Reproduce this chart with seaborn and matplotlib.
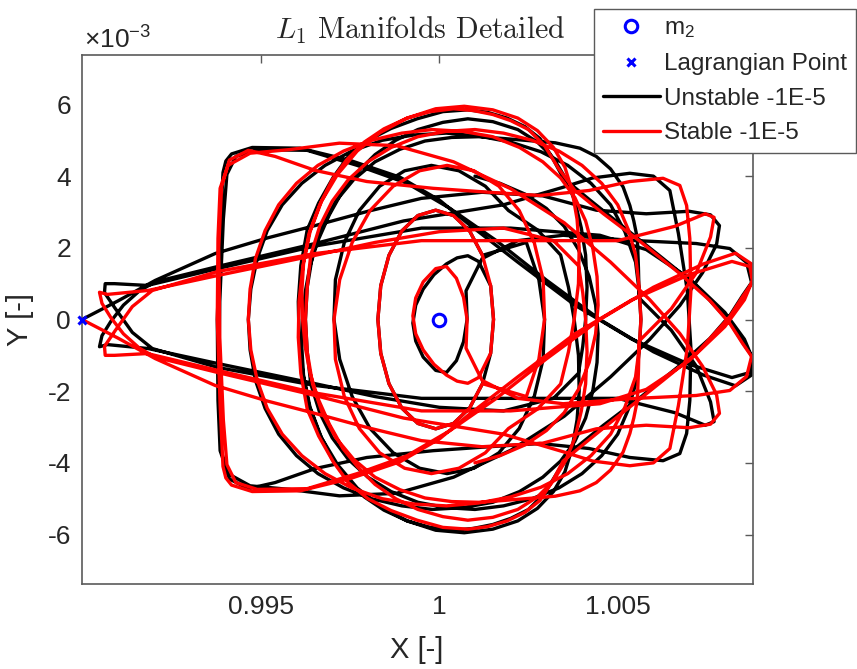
import numpy as np
import pandas as pd
import matplotlib
matplotlib.use("Agg")
import matplotlib.pyplot as plt
from matplotlib.lines import Line2D
import seaborn as sns

# ---- trajectory data: X [-] and Y [x1e-3 -] ----
unstable_x = [
    # departure from L1 and first sweep
    0.98999, 0.99100, 0.99204, 0.99372, 0.99520, 0.99652, 0.99800, 0.99950, 1.00120, 1.00290,
    1.00440, 1.00580, 1.00700, 1.00760, 1.00785, 1.00777, 1.00738, 1.00674, 1.00590, 1.00480,
    1.00350, 1.00200, 1.00040, 0.99880, 0.99720, 0.99580, 0.99470, 0.99408, 0.99386, 0.99380,
    0.99378, 0.99386, 0.99394, 0.99402, 0.99418, 0.99476, 0.99610, 0.99750, 0.99890, 1.00002,
    1.00080, 1.00220, 1.00380, 1.00540, 1.00700, 1.00820, 1.00870, 1.00878, 1.00850, 1.00814,
    1.00720, 1.00627, 1.00520, 1.00420,
    # wide loop around m2
    1.00347, 1.00315, 1.00282, 1.00240, 1.00190, 1.00135, 1.00080, 1.00010, 0.99938, 0.99865,
    0.99800, 0.99745, 0.99703, 0.99662, 0.99630, 0.99612, 0.99605, 0.99607, 0.99618, 0.99638,
    0.99670, 0.99715, 0.99770, 0.99835, 0.99910, 0.99990, 1.00070, 1.00150, 1.00220, 1.00275,
    1.00320, 1.00352, 1.00372, 1.00386, 1.00392, 1.00390, 1.00378, 1.00362, 1.00340,
    # tighter loops
    1.00275, 1.00194, 1.00129, 1.00055, 0.99978, 0.99903, 0.99833, 0.99776, 0.99734, 0.99709,
    0.99705, 0.99721, 0.99756, 0.99806, 0.99871, 0.99945, 1.00022, 1.00097, 1.00167, 1.00224,
    1.00266, 1.00291, 1.00295, 1.00279, 1.00244,
    1.00121, 1.00085, 1.00040, 0.99990, 0.99940, 0.99895, 0.99859, 0.99836, 0.99828, 0.99836,
    0.99859, 0.99895, 0.99940, 0.99990, 1.00040, 1.00085, 1.00121, 1.00144, 1.00152, 1.00144,
    1.00110, 1.00080,
    1.00050, 1.00020, 0.99985, 0.99955, 0.99934, 0.99926, 0.99934, 0.99955, 0.99990, 1.00020,
    1.00048, 1.00068, 1.00078,
    # outward sweep to the right lobe
    1.00075, 1.00120, 1.00220, 1.00347, 1.00534, 1.00720, 1.00814, 1.00861, 1.00875, 1.00850,
    1.00814, 1.00758, 1.00674, 1.00560, 1.00460, 1.00380, 1.00335, 1.00295, 1.00250, 1.00200,
    1.00150, 1.00095, 1.00040, 0.99975, 0.99910, 0.99845, 0.99790, 0.99740, 0.99700, 0.99665,
    0.99635, 0.99620, 0.99615, 0.99617, 0.99625, 0.99638, 0.99660, 0.99692, 0.99730, 0.99772,
    0.99820, 0.99878, 0.99940, 1.00010, 1.00080, 1.00150, 1.00220, 1.00275, 1.00320, 1.00355,
    1.00380, 1.00398, 1.00410, 1.00414, 1.00410, 1.00402, 1.00390,
    # two passes through the L1 neck
    1.00320, 1.00180, 1.00000, 0.99820, 0.99652, 0.99380, 0.99184, 0.99070, 0.99048, 0.99055,
    0.99080, 0.99115, 0.99160, 0.99204, 0.99392, 0.99652, 0.99900, 1.00180, 1.00347, 1.00430,
    1.00534, 1.00600, 1.00646, 1.00670, 1.00695, 1.00705, 1.00702, 1.00693, 1.00674, 1.00627,
    1.00534, 1.00420, 1.00282, 1.00140, 0.99983, 0.99797, 0.99652, 0.99540, 0.99465, 0.99412,
    0.99390, 0.99382, 0.99385, 0.99395, 0.99405, 0.99430, 0.99490, 0.99630, 0.99770, 0.99910,
    1.00030, 1.00160, 1.00300, 1.00450, 1.00600, 1.00740, 1.00830, 1.00875, 1.00878, 1.00855,
    1.00800, 1.00700, 1.00580, 1.00450, 1.00200, 0.99950, 0.99652, 0.99392, 0.99182, 0.99090,
    0.99064, 0.99062, 0.99092, 0.99140, 0.99196, 0.99380, 0.99652, 0.99950, 1.00250, 1.00500,
    1.00660, 1.00745, 1.00770, 1.00760, 1.00720, 1.00650, 1.00560,
    # closing loops around m2
    1.00558, 1.00555, 1.00545, 1.00534, 1.00515, 1.00480, 1.00440, 1.00394, 1.00325, 1.00254,
    1.00180, 1.00110, 1.00035, 0.99960, 0.99890, 0.99820, 0.99760, 0.99710, 0.99672, 0.99645,
    0.99630, 0.99625, 0.99630, 0.99640, 0.99665, 0.99700, 0.99745, 0.99800, 0.99865, 0.99940,
    1.00020, 1.00100, 1.00180, 1.00260, 1.00335, 1.00400, 1.00455, 1.00500, 1.00530, 1.00550,
    1.00560, 1.00565, 1.00560, 1.00550,
    1.00520, 1.00480, 1.00425, 1.00360, 1.00285, 1.00200, 1.00110, 1.00020, 0.99930, 0.99840,
    0.99755, 0.99680, 0.99615, 0.99560, 0.99518, 0.99490, 0.99472, 0.99465, 0.99470, 0.99485,
    0.99512, 0.99550, 0.99600, 0.99660, 0.99732, 0.99810, 0.99895, 0.99980, 1.00065, 1.00150,
    1.00225, 1.00290, 1.00340, 1.00380, 1.00410, 1.00430, 1.00442, 1.00445, 1.00438, 1.00420,
    1.00390, 1.00350, 1.00300, 1.00240, 1.00170, 1.00100,
]
unstable_y = [
    0.00, 0.52, 1.09, 1.84, 2.28, 2.62, 3.02, 3.38, 3.55, 3.45,
    3.05, 2.95, 3.02, 2.92, 2.62, 2.10, 1.31, 0.39, -0.55, -1.60,
    -2.70, -3.65, -4.40, -4.85, -4.92, -4.74, -4.64, -4.30, -3.66, -2.26,
    0.00, 2.40, 4.10, 4.42, 4.62, 4.80, 4.78, 4.44, 3.97, 3.32,
    2.68, 1.60, 0.40, -0.55, -1.25, -1.62, -1.48, -1.05, -0.64, -0.08,
    0.95, 1.70, 2.55, 3.35,
    3.95, 4.55, 5.05, 5.38, 5.62, 5.78, 5.85, 5.80, 5.60, 5.33,
    5.00, 4.55, 3.97, 3.25, 2.50, 1.50, 0.50, -0.50, -1.50, -2.45,
    -3.30, -4.05, -4.70, -5.22, -5.62, -5.88, -5.95, -5.85, -5.62, -5.27,
    -4.80, -4.25, -3.60, -2.80, -2.00, -1.00, 0.00, 0.90, 1.80,
    2.50, 3.04, 3.72, 4.15, 4.30, 4.15, 3.72, 3.04, 2.15, 1.11,
    0.00, -1.11, -2.15, -3.04, -3.72, -4.15, -4.30, -4.15, -3.72, -3.04,
    -2.15, -1.11, 0.00, 1.11, 2.15,
    1.79, 2.47, 2.90, 3.05, 2.90, 2.47, 1.79, 0.94, 0.00, -0.94,
    -1.79, -2.47, -2.90, -3.05, -2.90, -2.47, -1.79, -0.94, 0.00, 0.94,
    1.62, 1.78,
    1.72, 1.55, 1.25, 0.85, 0.40, -0.10, -0.60, -1.05, -1.42, -1.48,
    -1.15, -0.62, 0.00,
    0.80, 1.70, 2.20, 2.35, 2.21, 2.12, 1.98, 1.59, 1.03, 0.67,
    0.11, -0.53, -1.28, -2.20, -2.95, -3.60, -4.20, -4.85, -5.30, -5.55,
    -5.72, -5.83, -5.88, -5.80, -5.62, -5.32, -4.95, -4.45, -3.90, -3.20,
    -2.40, -1.60, -0.80, 0.00, 0.80, 1.50, 2.20, 2.92, 3.60, 4.12,
    4.60, 5.00, 5.30, 5.50, 5.60, 5.52, 5.30, 4.95, 4.50, 3.92,
    3.30, 2.55, 1.80, 0.90, 0.00, -0.75, -1.50,
    -2.20, -2.55, -2.45, -2.15, -1.79, -1.23, -0.81, -0.70, -0.76, -0.45,
    -0.05, 0.40, 0.80, 1.05, 1.51, 2.12, 2.75, 3.20, 3.69, 3.95,
    4.08, 4.00, 3.60, 2.40, 0.80, -0.80, -2.26, -3.18, -3.74, -3.94,
    -3.85, -3.60, -3.46, -3.55, -3.66, -3.85, -4.16, -4.55, -4.72, -4.45,
    -3.70, -2.00, 0.50, 2.80, 4.05, 4.55, 4.74, 4.72, 4.30, 3.80,
    3.10, 2.20, 1.10, 0.00, -0.90, -1.55, -1.85, -1.55, -1.10, -0.55,
    0.20, 1.15, 1.95, 2.35, 2.55, 2.55, 2.05, 1.45, 0.95, 1.00,
    1.00, 0.75, 0.31, -0.36, -0.81, -1.34, -1.84, -2.20, -2.20, -2.20,
    -2.60, -2.95, -2.85, -2.30, -1.30, -0.30, 0.60,
    1.45, 2.26, 2.75, 3.18, 3.70, 4.20, 4.55, 4.78, 4.93, 4.99,
    5.05, 5.10, 5.08, 4.98, 4.75, 4.40, 3.90, 3.30, 2.60, 1.80,
    0.90, 0.00, -0.90, -1.80, -2.60, -3.30, -3.90, -4.40, -4.80, -5.10,
    -5.25, -5.30, -5.20, -5.00, -4.70, -4.30, -3.80, -3.20, -2.50, -1.80,
    -0.90, 0.00, 0.80, 1.60,
    2.45, 3.20, 3.80, 4.30, 4.68, 4.95, 5.12, 5.20, 5.15, 5.00,
    4.70, 4.30, 3.80, 3.20, 2.48, 1.70, 0.85, 0.00, -0.85, -1.70,
    -2.48, -3.20, -3.80, -4.30, -4.70, -5.00, -5.20, -5.30, -5.25, -5.10,
    -4.80, -4.40, -3.95, -3.40, -2.75, -2.00, -1.20, -0.40, 0.40, 1.20,
    1.95, 2.60, 3.10, 3.50, 3.80, 4.00,
]

stable_x = [
    0.98999, 0.99100, 0.99204, 0.99372, 0.99520, 0.99652, 0.99800, 0.99950, 1.00120, 1.00290,
    1.00440, 1.00580, 1.00700, 1.00760, 1.00785, 1.00777, 1.00738, 1.00674, 1.00590, 1.00480,
    1.00350, 1.00200, 1.00040, 0.99880, 0.99720, 0.99580, 0.99470, 0.99408, 0.99386, 0.99380,
    0.99378, 0.99386, 0.99394, 0.99402, 0.99418, 0.99476, 0.99610, 0.99750, 0.99890, 1.00002,
    1.00080, 1.00220, 1.00380, 1.00540, 1.00700, 1.00820, 1.00870, 1.00878, 1.00850, 1.00814,
    1.00720, 1.00627, 1.00520, 1.00420,
    1.00347, 1.00315, 1.00282, 1.00240, 1.00190, 1.00135, 1.00080, 1.00010, 0.99938, 0.99865,
    0.99800, 0.99745, 0.99703, 0.99662, 0.99630, 0.99612, 0.99605, 0.99607, 0.99618, 0.99638,
    0.99670, 0.99715, 0.99770, 0.99835, 0.99910, 0.99990, 1.00070, 1.00150, 1.00220, 1.00275,
    1.00320, 1.00352, 1.00372, 1.00386, 1.00392, 1.00390, 1.00378, 1.00362, 1.00340,
    1.00275, 1.00194, 1.00129, 1.00055, 0.99978, 0.99903, 0.99833, 0.99776, 0.99734, 0.99709,
    0.99705, 0.99721, 0.99756, 0.99806, 0.99871, 0.99945, 1.00022, 1.00097, 1.00167, 1.00224,
    1.00266, 1.00291, 1.00295, 1.00279, 1.00244,
    1.00121, 1.00085, 1.00040, 0.99990, 0.99940, 0.99895, 0.99859, 0.99836, 0.99828, 0.99836,
    0.99859, 0.99895, 0.99940, 0.99990, 1.00040, 1.00085, 1.00121, 1.00144, 1.00152, 1.00144,
    1.00110, 1.00080,
    1.00050, 1.00020, 0.99985, 0.99955, 0.99934, 0.99926, 0.99934, 0.99955, 0.99990, 1.00020,
    1.00048, 1.00068, 1.00078,
    1.00075, 1.00120, 1.00220, 1.00347, 1.00534, 1.00720, 1.00814, 1.00861, 1.00875, 1.00850,
    1.00814, 1.00758, 1.00674, 1.00560, 1.00460, 1.00380, 1.00335, 1.00295, 1.00250, 1.00200,
    1.00150, 1.00095, 1.00040, 0.99975, 0.99910, 0.99845, 0.99790, 0.99740, 0.99700, 0.99665,
    0.99635, 0.99620, 0.99615, 0.99617, 0.99625, 0.99638, 0.99660, 0.99692, 0.99730, 0.99772,
    0.99820, 0.99878, 0.99940, 1.00010, 1.00080, 1.00150, 1.00220, 1.00275, 1.00320, 1.00355,
    1.00380, 1.00398, 1.00410, 1.00414, 1.00410, 1.00402, 1.00390,
    1.00320, 1.00180, 1.00000, 0.99820, 0.99652, 0.99380, 0.99184, 0.99070, 0.99048, 0.99055,
    0.99080, 0.99115, 0.99160, 0.99204, 0.99392, 0.99652, 0.99900, 1.00180, 1.00347, 1.00430,
    1.00534, 1.00600, 1.00646, 1.00670, 1.00695, 1.00705, 1.00702, 1.00693, 1.00674, 1.00627,
    1.00534, 1.00420, 1.00282, 1.00140, 0.99983, 0.99797, 0.99652, 0.99540, 0.99465, 0.99412,
    0.99390, 0.99382, 0.99385, 0.99395, 0.99405, 0.99430, 0.99490, 0.99630, 0.99770, 0.99910,
    1.00030, 1.00160, 1.00300, 1.00450, 1.00600, 1.00740, 1.00830, 1.00875, 1.00878, 1.00855,
    1.00800, 1.00700, 1.00580, 1.00450, 1.00200, 0.99950, 0.99652, 0.99392, 0.99182, 0.99090,
    0.99064, 0.99062, 0.99092, 0.99140, 0.99196, 0.99380, 0.99652, 0.99950, 1.00250, 1.00500,
    1.00660, 1.00745, 1.00770, 1.00760, 1.00720, 1.00650, 1.00560,
    1.00558, 1.00555, 1.00545, 1.00534, 1.00515, 1.00480, 1.00440, 1.00394, 1.00325, 1.00254,
    1.00180, 1.00110, 1.00035, 0.99960, 0.99890, 0.99820, 0.99760, 0.99710, 0.99672, 0.99645,
    0.99630, 0.99625, 0.99630, 0.99640, 0.99665, 0.99700, 0.99745, 0.99800, 0.99865, 0.99940,
    1.00020, 1.00100, 1.00180, 1.00260, 1.00335, 1.00400, 1.00455, 1.00500, 1.00530, 1.00550,
    1.00560, 1.00565, 1.00560, 1.00550,
    1.00520, 1.00480, 1.00425, 1.00360, 1.00285, 1.00200, 1.00110, 1.00020, 0.99930, 0.99840,
    0.99755, 0.99680, 0.99615, 0.99560, 0.99518, 0.99490, 0.99472, 0.99465, 0.99470, 0.99485,
    0.99512, 0.99550, 0.99600, 0.99660, 0.99732, 0.99810, 0.99895, 0.99980, 1.00065, 1.00150,
    1.00225, 1.00290, 1.00340, 1.00380, 1.00410, 1.00430, 1.00442, 1.00445, 1.00438, 1.00420,
    1.00390, 1.00350, 1.00300, 1.00240, 1.00170, 1.00100,
]
stable_y = [
    0.00, -0.52, -1.09, -1.84, -2.28, -2.62, -3.02, -3.38, -3.55, -3.45,
    -3.05, -2.95, -3.02, -2.92, -2.62, -2.10, -1.31, -0.39, 0.55, 1.60,
    2.70, 3.65, 4.40, 4.85, 4.92, 4.74, 4.64, 4.30, 3.66, 2.26,
    0.00, -2.40, -4.10, -4.42, -4.62, -4.80, -4.78, -4.44, -3.97, -3.32,
    -2.68, -1.60, -0.40, 0.55, 1.25, 1.62, 1.48, 1.05, 0.64, 0.08,
    -0.95, -1.70, -2.55, -3.35,
    -3.95, -4.55, -5.05, -5.38, -5.62, -5.78, -5.85, -5.80, -5.60, -5.33,
    -5.00, -4.55, -3.97, -3.25, -2.50, -1.50, -0.50, 0.50, 1.50, 2.45,
    3.30, 4.05, 4.70, 5.22, 5.62, 5.88, 5.95, 5.85, 5.62, 5.27,
    4.80, 4.25, 3.60, 2.80, 2.00, 1.00, 0.00, -0.90, -1.80,
    -2.50, -3.04, -3.72, -4.15, -4.30, -4.15, -3.72, -3.04, -2.15, -1.11,
    0.00, 1.11, 2.15, 3.04, 3.72, 4.15, 4.30, 4.15, 3.72, 3.04,
    2.15, 1.11, 0.00, -1.11, -2.15,
    -1.79, -2.47, -2.90, -3.05, -2.90, -2.47, -1.79, -0.94, 0.00, 0.94,
    1.79, 2.47, 2.90, 3.05, 2.90, 2.47, 1.79, 0.94, 0.00, -0.94,
    -1.62, -1.78,
    -1.72, -1.55, -1.25, -0.85, -0.40, 0.10, 0.60, 1.05, 1.42, 1.48,
    1.15, 0.62, 0.00,
    -0.80, -1.70, -2.20, -2.35, -2.21, -2.12, -1.98, -1.59, -1.03, -0.67,
    -0.11, 0.53, 1.28, 2.20, 2.95, 3.60, 4.20, 4.85, 5.30, 5.55,
    5.72, 5.83, 5.88, 5.80, 5.62, 5.32, 4.95, 4.45, 3.90, 3.20,
    2.40, 1.60, 0.80, 0.00, -0.80, -1.50, -2.20, -2.92, -3.60, -4.12,
    -4.60, -5.00, -5.30, -5.50, -5.60, -5.52, -5.30, -4.95, -4.50, -3.92,
    -3.30, -2.55, -1.80, -0.90, 0.00, 0.75, 1.50,
    2.20, 2.55, 2.45, 2.15, 1.79, 1.23, 0.81, 0.70, 0.76, 0.45,
    0.05, -0.40, -0.80, -1.05, -1.51, -2.12, -2.75, -3.20, -3.69, -3.95,
    -4.08, -4.00, -3.60, -2.40, -0.80, 0.80, 2.26, 3.18, 3.74, 3.94,
    3.85, 3.60, 3.46, 3.55, 3.66, 3.85, 4.16, 4.55, 4.72, 4.45,
    3.70, 2.00, -0.50, -2.80, -4.05, -4.55, -4.74, -4.72, -4.30, -3.80,
    -3.10, -2.20, -1.10, 0.00, 0.90, 1.55, 1.85, 1.55, 1.10, 0.55,
    -0.20, -1.15, -1.95, -2.35, -2.55, -2.55, -2.05, -1.45, -0.95, -1.00,
    -1.00, -0.75, -0.31, 0.36, 0.81, 1.34, 1.84, 2.20, 2.20, 2.20,
    2.60, 2.95, 2.85, 2.30, 1.30, 0.30, -0.60,
    -1.45, -2.26, -2.75, -3.18, -3.70, -4.20, -4.55, -4.78, -4.93, -4.99,
    -5.05, -5.10, -5.08, -4.98, -4.75, -4.40, -3.90, -3.30, -2.60, -1.80,
    -0.90, 0.00, 0.90, 1.80, 2.60, 3.30, 3.90, 4.40, 4.80, 5.10,
    5.25, 5.30, 5.20, 5.00, 4.70, 4.30, 3.80, 3.20, 2.50, 1.80,
    0.90, 0.00, -0.80, -1.60,
    -2.45, -3.20, -3.80, -4.30, -4.68, -4.95, -5.12, -5.20, -5.15, -5.00,
    -4.70, -4.30, -3.80, -3.20, -2.48, -1.70, -0.85, 0.00, 0.85, 1.70,
    2.48, 3.20, 3.80, 4.30, 4.70, 5.00, 5.20, 5.30, 5.25, 5.10,
    4.80, 4.40, 3.95, 3.40, 2.75, 2.00, 1.20, 0.40, -0.40, -1.20,
    -1.95, -2.60, -3.10, -3.50, -3.80, -4.00,
]

m2_pos = (0.999997, 0.0)
lagrange_pos = (0.98999, 0.0)

x_ticks = [0.995, 1.0, 1.005]
x_tick_labels = ["0.995", "1", "1.005"]
y_ticks = [-6, -4, -2, 0, 2, 4, 6]
y_tick_labels = ["-6", "-4", "-2", "0", "2", "4", "6"]

series_labels = ["m$_2$", "Lagrangian Point", "Unstable -1E-5", "Stable -1E-5"]

# ---- style ----
sns.set_style("white")
plt.rcParams["font.family"] = ["Liberation Sans", "DejaVu Sans"]
plt.rcParams["mathtext.fontset"] = "custom"
plt.rcParams["mathtext.rm"] = "Liberation Sans"
plt.rcParams["mathtext.it"] = "Liberation Sans:italic"
plt.rcParams["mathtext.bf"] = "Liberation Sans:bold"

axis_grey = "#262626"
spine_grey = "#5a5a5a"

fig = plt.figure(figsize=(8.57, 6.69), dpi=100)
ax = fig.add_axes([82 / 857, 1 - 584 / 669, (753 - 82) / 857, (584 - 55) / 669])

unstable = pd.DataFrame({"X": unstable_x, "Y": np.array(unstable_y) * 1e-3})
stable = pd.DataFrame({"X": stable_x, "Y": np.array(stable_y) * 1e-3})

sns.lineplot(data=unstable, x="X", y="Y", sort=False, estimator=None,
             color="black", linewidth=2.4, ax=ax)
sns.lineplot(data=stable, x="X", y="Y", sort=False, estimator=None,
             color="red", linewidth=2.4, ax=ax)
for ln in ax.get_lines():
    ln.set_solid_joinstyle("round")

ax.plot([m2_pos[0]], [m2_pos[1]], "o", mfc="none", mec="blue", mew=2.2, ms=9, zorder=5)
ax.plot([lagrange_pos[0]], [lagrange_pos[1]], "x", color="blue", mew=2.2, ms=6,
        zorder=5, clip_on=False)

ax.set_xlim(0.98999, 1.00879)
ax.set_ylim(-7.38e-3, 7.38e-3)
ax.set_xticks(x_ticks)
ax.set_xticklabels(x_tick_labels)
ax.set_yticks([t * 1e-3 for t in y_ticks])
ax.set_yticklabels(y_tick_labels)
ax.tick_params(direction="in", length=6, width=1, top=True, right=True,
               labelsize=19, colors=spine_grey, labelcolor=axis_grey, pad=8)
for s in ax.spines.values():
    s.set_color(spine_grey)
    s.set_linewidth(1.2)
ax.set_xlabel("")
ax.set_ylabel("")

fig.text(417 / 857, 1 - 650 / 669, "X [-]", ha="center", va="center",
         fontsize=21, color=axis_grey)
fig.text(20 / 857, 1 - 320 / 669, "Y [-]", ha="center", va="center",
         fontsize=21, color=axis_grey, rotation=90)
fig.text(84 / 857, 1 - 40 / 669, r"$\times10^{-3}$", ha="left", va="center",
         fontsize=19, color=axis_grey)
fig.text(420 / 857, 1 - 30 / 669, r"$L_1$ Manifolds Detailed", ha="center",
         va="center", fontsize=21.5, color=axis_grey, family="cmr10",
         math_fontfamily="cm")

handles = [
    Line2D([], [], marker="o", ls="none", mfc="none", mec="blue", mew=2.2, ms=9),
    Line2D([], [], marker="x", ls="none", color="blue", mew=2.2, ms=6),
    Line2D([], [], color="black", lw=2.4),
    Line2D([], [], color="red", lw=2.4),
]
leg = fig.legend(handles, series_labels, loc="upper right",
                 bbox_to_anchor=(856 / 857, 1 - 9 / 669), fontsize=17.5,
                 frameon=True, fancybox=False, framealpha=1, edgecolor=spine_grey,
                 handlelength=2.35, handletextpad=0.2, labelspacing=0.52,
                 borderpad=0.35, borderaxespad=0)
leg.get_frame().set_linewidth(1.0)
for t in leg.get_texts():
    t.set_color(axis_grey)

fig.savefig("out.png", dpi=100)
